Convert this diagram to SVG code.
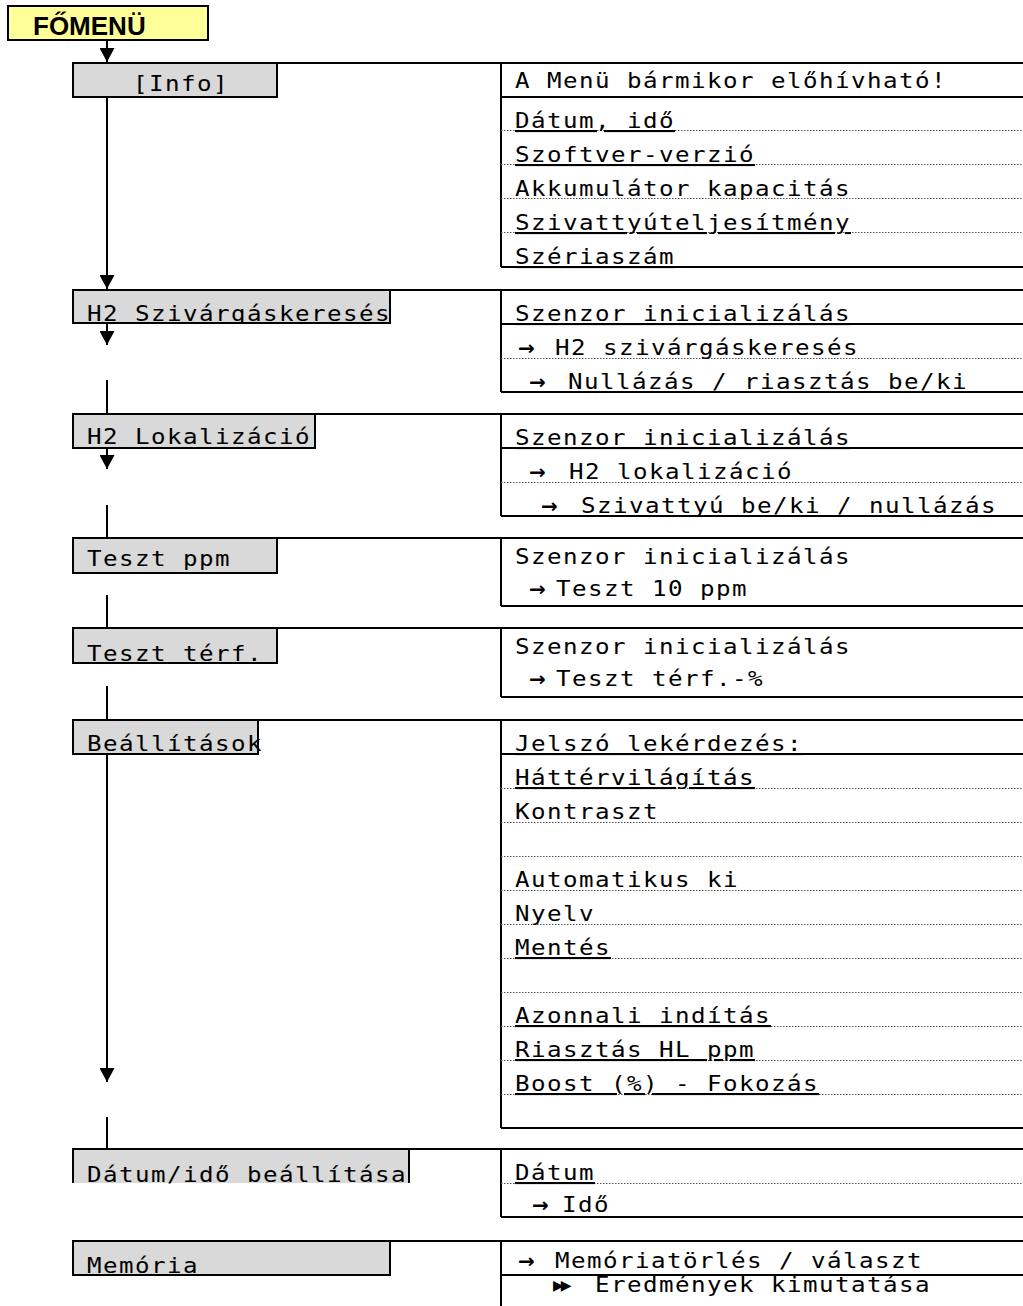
<svg xmlns="http://www.w3.org/2000/svg" width="1023" height="1306" viewBox="0 0 1023 1306">
<style>
.t{font-family:"DejaVu Sans Mono","Liberation Mono",monospace;font-size:21px;letter-spacing:1.27px;fill:#000}
.u{text-decoration:underline}
.ar{font-family:"DejaVu Sans",sans-serif;font-weight:bold;font-size:20px;letter-spacing:0}
.dt{font-family:"DejaVu Sans",sans-serif;font-size:14px;letter-spacing:-3px}
.box{fill:#d9d9d9;stroke:#000;stroke-width:2}
.ln{stroke:#000;stroke-width:2;fill:none}
.dot{stroke:#555;stroke-width:1;stroke-dasharray:1.5 1.5;fill:none}
.con{stroke:#000;stroke-width:2;fill:none}
.title{font-family:"Liberation Sans",Arial,sans-serif;font-weight:bold;font-size:26px;fill:#000}
</style>
<defs>
<marker id="ah" markerUnits="userSpaceOnUse" markerWidth="15" markerHeight="15" viewBox="0 0 14 15" refX="14" refY="7.5" orient="auto">
<path d="M0,0 L14,7.5 L0,15 Z" fill="#000"/>
</marker>
<clipPath id="clipSziv"><rect x="73" y="290" width="317" height="33"/></clipPath>
</defs>
<rect width="1023" height="1306" fill="#fff"/>

<g id="connectors">
<line class="con" x1="107" y1="40" x2="107" y2="62" marker-end="url(#ah)"/>
<line class="con" x1="107" y1="97" x2="107" y2="289" marker-end="url(#ah)"/>
<line class="con" x1="107" y1="323" x2="107" y2="345" marker-end="url(#ah)"/>
<line class="con" x1="107" y1="380" x2="107" y2="414"/>
<line class="con" x1="107" y1="448" x2="107" y2="469" marker-end="url(#ah)"/>
<line class="con" x1="107" y1="505" x2="107" y2="538"/>
<line class="con" x1="107" y1="595" x2="107" y2="628"/>
<line class="con" x1="107" y1="686" x2="107" y2="720"/>
<line class="con" x1="107" y1="754" x2="107" y2="1082" marker-end="url(#ah)"/>
<line class="con" x1="107" y1="1117" x2="107" y2="1149"/>
</g>

<g id="fomenu">
<rect x="8" y="6" width="200" height="34" fill="#ffff99" stroke="#000" stroke-width="2"/>
<text class="title" x="33" y="35">FŐMENÜ</text>
</g>

<g id="info">
<rect class="box" x="73" y="63" width="204" height="34"/>
<text class="t" x="133" y="91" textLength="96" lengthAdjust="spacingAndGlyphs">[Info]</text>
</g>
<g id="info-details">
<path class="ln" d="M277,63 H1023 M501,63 V267 M501,97 H1023 M501,267 H1023"/>
<path class="dot" d="M501,130.5 H1023 M501,164.5 H1023 M501,198.5 H1023 M501,232.5 H1023"/>
<text class="t" x="515" y="88" textLength="432" lengthAdjust="spacingAndGlyphs">A Menü bármikor előhívható!</text>
<text class="t u" x="515" y="128" textLength="160" lengthAdjust="spacingAndGlyphs">Dátum, idő</text>
<text class="t u" x="515" y="162" textLength="240" lengthAdjust="spacingAndGlyphs">Szoftver-verzió</text>
<text class="t" x="515" y="196" textLength="336" lengthAdjust="spacingAndGlyphs">Akkumulátor kapacitás</text>
<text class="t u" x="515" y="230" textLength="336" lengthAdjust="spacingAndGlyphs">Szivattyúteljesítmény</text>
<text class="t u" x="515" y="264" textLength="160" lengthAdjust="spacingAndGlyphs">Szériaszám</text>
</g>

<g id="h2-szivargas">
<rect class="box" x="73" y="290" width="317" height="33"/>
<text class="t" x="87" y="320.5" clip-path="url(#clipSziv)" textLength="304" lengthAdjust="spacingAndGlyphs">H2 Szivárgáskeresés</text>
</g>
<g id="h2-szivargas-details">
<path class="ln" d="M390,290 H1023 M501,290 V392 M501,324 H1023 M501,392 H1023"/>
<path class="dot" d="M501,358.5 H1023"/>
<text class="t u" x="515" y="321" textLength="336" lengthAdjust="spacingAndGlyphs">Szenzor inicializálás</text>
<text class="t" y="355"><tspan class="ar" x="518">→</tspan><tspan x="555" textLength="304" lengthAdjust="spacingAndGlyphs">H2 szivárgáskeresés</tspan></text>
<text class="t" y="389"><tspan class="ar" x="529">→</tspan><tspan x="568" textLength="400" lengthAdjust="spacingAndGlyphs">Nullázás / riasztás be/ki</tspan></text>
</g>

<g id="h2-lokalizacio">
<rect class="box" x="73" y="414" width="242" height="34"/>
<text class="t" x="87" y="444" textLength="224" lengthAdjust="spacingAndGlyphs">H2 Lokalizáció</text>
</g>
<g id="h2-lokalizacio-details">
<path class="ln" d="M315,414 H1023 M501,414 V516 M501,448 H1023 M501,516 H1023"/>
<path class="dot" d="M501,482.5 H1023"/>
<text class="t u" x="515" y="445" textLength="336" lengthAdjust="spacingAndGlyphs">Szenzor inicializálás</text>
<text class="t" y="479"><tspan class="ar" x="529">→</tspan><tspan x="569" textLength="224" lengthAdjust="spacingAndGlyphs">H2 lokalizáció</tspan></text>
<text class="t" y="513"><tspan class="ar" x="541">→</tspan><tspan x="581" textLength="416" lengthAdjust="spacingAndGlyphs">Szivattyú be/ki / nullázás</tspan></text>
</g>

<g id="teszt-ppm">
<rect class="box" x="73" y="538" width="204" height="35"/>
<text class="t" x="87" y="566" textLength="144" lengthAdjust="spacingAndGlyphs">Teszt ppm</text>
</g>
<g id="teszt-ppm-details">
<path class="ln" d="M277,538 H1023 M501,538 V606 M501,606 H1023"/>
<text class="t" x="515" y="564" textLength="336" lengthAdjust="spacingAndGlyphs">Szenzor inicializálás</text>
<text class="t" y="596"><tspan class="ar" x="529">→</tspan><tspan x="556" textLength="192" lengthAdjust="spacingAndGlyphs">Teszt 10 ppm</tspan></text>
</g>

<g id="teszt-terf">
<rect class="box" x="73" y="628" width="204" height="35"/>
<text class="t" x="87" y="660.5" textLength="176" lengthAdjust="spacingAndGlyphs">Teszt térf.</text>
</g>
<g id="teszt-terf-details">
<path class="ln" d="M277,628 H1023 M501,628 V697 M501,697 H1023"/>
<text class="t" x="515" y="654" textLength="336" lengthAdjust="spacingAndGlyphs">Szenzor inicializálás</text>
<text class="t" y="686"><tspan class="ar" x="529">→</tspan><tspan x="556" textLength="208" lengthAdjust="spacingAndGlyphs">Teszt térf.-%</tspan></text>
</g>

<g id="beallitasok">
<rect class="box" x="73" y="720" width="185" height="34"/>
<text class="t" x="87" y="750.5" textLength="176" lengthAdjust="spacingAndGlyphs">Beállítások</text>
</g>
<g id="beallitasok-details">
<path class="ln" d="M258,720 H1023 M501,720 V1128 M501,754 H1023 M501,1128 H1023"/>
<path class="dot" d="M501,788.5 H1023 M501,822.5 H1023 M501,856.5 H1023 M501,890.5 H1023 M501,924.5 H1023 M501,958.5 H1023 M501,992.5 H1023 M501,1026.5 H1023 M501,1060.5 H1023 M501,1094.5 H1023"/>
<text class="t u" x="515" y="751" textLength="288" lengthAdjust="spacingAndGlyphs">Jelszó lekérdezés:</text>
<text class="t u" x="515" y="785" textLength="240" lengthAdjust="spacingAndGlyphs">Háttérvilágítás</text>
<text class="t" x="515" y="819" textLength="144" lengthAdjust="spacingAndGlyphs">Kontraszt</text>
<text class="t" x="515" y="887" textLength="224" lengthAdjust="spacingAndGlyphs">Automatikus ki</text>
<text class="t" x="515" y="921" textLength="80" lengthAdjust="spacingAndGlyphs">Nyelv</text>
<text class="t u" x="515" y="955" textLength="96" lengthAdjust="spacingAndGlyphs">Mentés</text>
<text class="t u" x="515" y="1023" textLength="256" lengthAdjust="spacingAndGlyphs">Azonnali indítás</text>
<text class="t u" x="515" y="1057" textLength="240" lengthAdjust="spacingAndGlyphs">Riasztás HL ppm</text>
<text class="t u" x="515" y="1091" textLength="304" lengthAdjust="spacingAndGlyphs">Boost (%) - Fokozás</text>
</g>

<g id="datum-ido">
<rect x="73" y="1149" width="336" height="34" fill="#d9d9d9"/>
<path class="ln" d="M73,1183 V1149 H409 V1183"/>
<text class="t" x="87" y="1181.5" textLength="320" lengthAdjust="spacingAndGlyphs">Dátum/idő beállítása</text>
</g>
<g id="datum-ido-details">
<path class="ln" d="M409,1149 H1023 M501,1149 V1217 M501,1217 H1023"/>
<path class="dot" d="M501,1183.5 H1023"/>
<text class="t u" x="515" y="1180" textLength="80" lengthAdjust="spacingAndGlyphs">Dátum</text>
<text class="t" y="1212"><tspan class="ar" x="532">→</tspan><tspan x="562" textLength="48" lengthAdjust="spacingAndGlyphs">Idő</tspan></text>
</g>

<g id="memoria">
<rect class="box" x="73" y="1241" width="317" height="34"/>
<text class="t" x="87" y="1272.5" textLength="112" lengthAdjust="spacingAndGlyphs">Memória</text>
</g>
<g id="memoria-details">
<path class="ln" d="M390,1241 H1023 M501,1241 V1306 M501,1275 H1023"/>
<text class="t" y="1268"><tspan class="ar" x="518">→</tspan><tspan x="555" textLength="368" lengthAdjust="spacingAndGlyphs">Memóriatörlés / választ</tspan></text>
<text class="t" y="1292"><tspan class="dt" x="553" dy="-2">▶▶</tspan><tspan x="595" dy="2" textLength="336" lengthAdjust="spacingAndGlyphs">Eredmények kimutatása</tspan></text>
</g>
</svg>
